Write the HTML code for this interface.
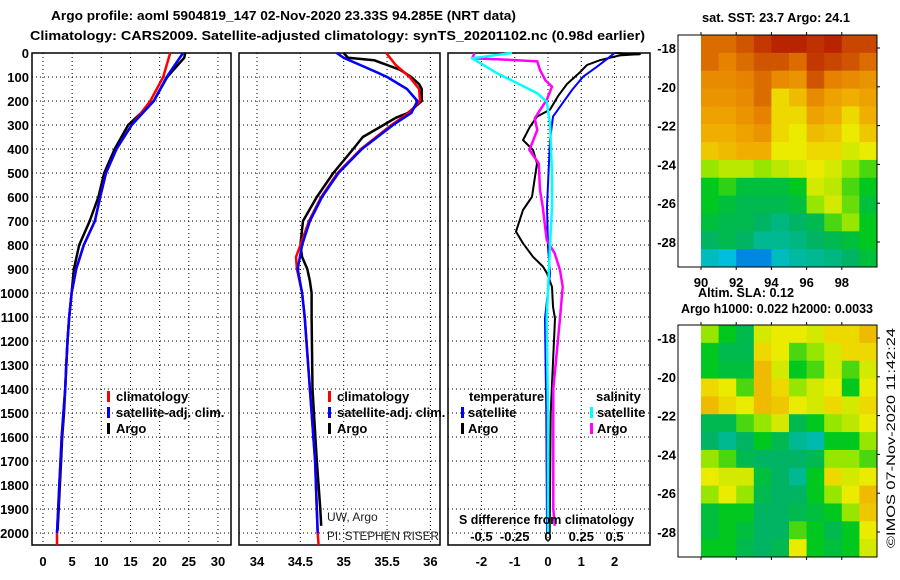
<!DOCTYPE html>
<html><head><meta charset="utf-8"><style>
html,body{margin:0;padding:0;background:#fff;}
svg{display:block;font-family:"Liberation Sans",sans-serif;}
.b{font-weight:bold;font-size:13px;fill:#000;}
</style></head><body>
<svg id="chart" width="900" height="580" viewBox="0 0 900 580" xmlns="http://www.w3.org/2000/svg">
<rect x="0" y="0" width="900" height="580" fill="#fff"/>
<text class="b" x="51" y="20" textLength="465" lengthAdjust="spacingAndGlyphs">Argo profile: aoml 5904819_147 02-Nov-2020 23.33S 94.285E (NRT data)</text>
<text class="b" x="30" y="40" textLength="615" lengthAdjust="spacingAndGlyphs">Climatology: CARS2009. Satellite-adjusted climatology: synTS_20201102.nc (0.98d earlier)</text>
<text class="b" x="702" y="22" textLength="148" lengthAdjust="spacingAndGlyphs">sat. SST: 23.7 Argo: 24.1</text>
<text class="b" x="698" y="297" textLength="96" lengthAdjust="spacingAndGlyphs">Altim. SLA: 0.12</text>
<text class="b" x="681" y="313" textLength="192" lengthAdjust="spacingAndGlyphs">Argo h1000: 0.022 h2000: 0.0033</text>
<text transform="translate(895,548) rotate(-90)" font-size="12" fill="#000" textLength="220" lengthAdjust="spacingAndGlyphs">©IMOS 07-Nov-2020 11:42:24</text>
<g id="plots"></g>
</svg>
<script>
// ---------- data: temperature panel ----------
const tClimDepth = [0,100,200,300,400,500,600,700,800,900,1000,1100,1200,1300,1400,1500,1600,1700,1800,1900,2000,2050];
const tClim      = [21.8,20.6,18.4,15.2,12.6,10.8,9.8,8.9,7.0,5.7,4.9,4.5,4.2,4.0,3.8,3.5,3.2,3.0,2.8,2.6,2.4,2.4];
const tSatDepth  = [0,100,200,300,400,500,600,700,800,900,1000,1100,1200,1300,1400,1500,1600,1700,1800,1900,2000];
const tSat       = [24.0,21.2,19.0,15.2,12.6,10.8,9.8,8.9,7.0,5.7,4.9,4.5,4.2,4.0,3.8,3.5,3.2,3.0,2.8,2.6,2.4];
const tArgoDepth = [0,20,100,200,300,400,500,600,700,800,900,1000,1100,1200,1300,1400,1500,1600,1700,1800,1900,1990];
const tArgo      = [24.4,24.2,21.3,19.0,14.6,12.3,10.5,9.5,8.0,6.2,5.3,4.9,4.5,4.2,4.0,3.8,3.6,3.3,3.1,2.9,2.7,2.5];
const tTicks = [0,5,10,15,20,25,30];
// ---------- data: salinity panel ----------
const sClimDepth = [0,50,100,150,200,250,300,400,500,600,700,800,850,900,1000,1100,1400,1700,1900,2000,2050];
const sClim      = [35.49,35.6,35.76,35.87,35.88,35.75,35.55,35.2,34.93,34.74,34.6,34.5,34.45,34.46,34.52,34.55,34.61,34.67,34.69,34.7,34.71];
const sSatDepth  = [0,20,50,80,100,150,200,250,300,400,500,600,700,800,900,1000,1100,1400,1700,1900,2000];
const sSat       = [34.92,35.0,35.19,35.38,35.5,35.73,35.85,35.78,35.57,35.21,34.94,34.75,34.61,34.52,34.47,34.52,34.55,34.61,34.67,34.69,34.7];
const sArgoDepth = [0,20,30,50,70,100,130,150,200,250,270,300,350,400,500,600,700,800,850,900,950,1000,1100,1400,1700,1900,1970];
const sArgo      = [35.0,35.05,35.35,35.5,35.65,35.78,35.87,35.9,35.9,35.74,35.6,35.46,35.22,35.11,34.88,34.69,34.53,34.5,34.52,34.58,34.61,34.63,34.63,34.64,34.69,34.73,34.74];
const sTicks = [34,34.5,35,35.5,36];
// ---------- data: difference panel ----------
const dTArgoDepth = [0,5,10,30,50,80,129,180,236,265,307,363,404,460,515,599,654,744,793,849,890,918,974,1057,1106,1500,2000];
const dTArgo      = [2.0,2.76,2.16,1.56,1.17,0.96,0.57,0.3,0.06,-0.33,-0.54,-0.75,-0.45,-0.33,-0.39,-0.48,-0.75,-0.96,-0.75,-0.45,-0.15,-0.03,0.12,0.15,0.21,0.08,0.05];
const dTSatDepth  = [0,22,57,99,154,236,265,363,640,807,918,1106,1500,2000];
const dTSat       = [2.0,1.8,1.47,1.05,0.72,0.3,0.15,0.06,-0.03,0.0,0.06,-0.09,-0.05,-0.03];
const dSSatDepth  = [0,22,35,85,126,168,203,293,500,640,807,988,1106,1500,2000];
const dSSat       = [-0.27,-0.57,-0.53,-0.38,-0.23,-0.08,-0.01,0.015,0.03,0.03,0.015,0.0,-0.01,0.0,0.0];
const dSArgoDepth = [0,22,28,35,71,113,140,196,238,273,321,404,460,571,640,779,835,904,974,1106,1400,1900,1970];
const dSArgo      = [-0.55,-0.57,-0.3,-0.08,-0.06,-0.02,0.03,-0.01,-0.06,-0.1,-0.08,-0.14,-0.07,-0.06,-0.04,-0.01,0.05,0.09,0.11,0.09,0.04,0.04,0.05];
const dTTicks = [-2,-1,0,1,2];
const dSTicks = [-0.5,-0.25,0,0.25,0.5];
const depthTicks = [0,100,200,300,400,500,600,700,800,900,1000,1100,1200,1300,1400,1500,1600,1700,1800,1900,2000];
// ---------- data: maps ----------
const sstGrid = [
[0.85,0.85,0.88,0.92,0.95,0.95,0.93,0.95,0.9,0.9],
[0.85,0.82,0.85,0.88,0.88,0.85,0.92,0.9,0.88,0.85],
[0.8,0.8,0.82,0.85,0.8,0.78,0.88,0.82,0.8,0.78],
[0.78,0.78,0.8,0.85,0.65,0.7,0.8,0.75,0.72,0.75],
[0.75,0.75,0.78,0.82,0.65,0.65,0.75,0.72,0.65,0.72],
[0.72,0.72,0.75,0.78,0.65,0.62,0.7,0.68,0.62,0.68],
[0.68,0.7,0.72,0.72,0.62,0.62,0.65,0.65,0.6,0.62],
[0.55,0.58,0.58,0.55,0.58,0.6,0.62,0.6,0.55,0.5],
[0.45,0.48,0.42,0.42,0.42,0.45,0.6,0.58,0.5,0.45],
[0.45,0.42,0.4,0.4,0.4,0.42,0.55,0.6,0.52,0.42],
[0.42,0.4,0.4,0.38,0.36,0.38,0.4,0.5,0.55,0.45],
[0.38,0.4,0.38,0.35,0.35,0.36,0.38,0.4,0.42,0.45],
[0.32,0.3,0.25,0.25,0.32,0.34,0.35,0.36,0.38,0.42]];
const slaGrid = [
[0.55,0.45,0.4,0.6,0.62,0.62,0.6,0.65,0.65,0.7],
[0.45,0.4,0.4,0.65,0.62,0.5,0.55,0.6,0.65,0.65],
[0.45,0.42,0.42,0.7,0.6,0.45,0.5,0.6,0.5,0.6],
[0.65,0.62,0.5,0.7,0.65,0.55,0.6,0.62,0.45,0.62],
[0.7,0.65,0.62,0.7,0.68,0.62,0.6,0.65,0.6,0.65],
[0.4,0.4,0.5,0.55,0.6,0.4,0.45,0.55,0.58,0.62],
[0.38,0.35,0.38,0.45,0.4,0.35,0.33,0.45,0.45,0.55],
[0.55,0.5,0.4,0.38,0.38,0.38,0.4,0.55,0.55,0.5],
[0.62,0.6,0.6,0.42,0.38,0.35,0.45,0.65,0.6,0.62],
[0.55,0.62,0.55,0.4,0.38,0.38,0.45,0.55,0.62,0.7],
[0.42,0.45,0.45,0.38,0.38,0.4,0.42,0.45,0.55,0.68],
[0.42,0.45,0.42,0.38,0.38,0.5,0.45,0.4,0.45,0.62],
[0.45,0.45,0.4,0.38,0.4,0.62,0.45,0.42,0.45,0.6]];
const lonTicks = [90,92,94,96,98];
const latTicks = [-18,-20,-22,-24,-26,-28];

const NS = "http://www.w3.org/2000/svg";
const G = document.getElementById('plots');
function mk(tag, attrs, parent){ const e=document.createElementNS(NS,tag); for(const k in attrs) e.setAttribute(k,attrs[k]); (parent||G).appendChild(e); return e; }
const yD = d => 53 + 0.24*d;
const TOP=53, BOT=545;
const panels = [
 {name:'temperature', x0:32, x1:231, fx:v=>43+5.833*v, ticks:tTicks},
 {name:'salinity', x0:239, x1:440, fx:v=>257+86.7*(v-34), ticks:sTicks},
 {name:'difference', x0:448, x1:650, fx:v=>548+33.3*v, ticks:dTTicks}
];
const fxS = v => 548+133.2*v;

panels.forEach(p=>{
  const g = mk('g',{});
  
  
  depthTicks.forEach(d=>{
    const l = mk('line',{x1:p.x0,x2:p.x1,y1:yD(d),y2:yD(d),stroke:'#000','stroke-width':1,'stroke-dasharray':'1,3'},g);
    
    
  });
  p.ticks.forEach(t=>{
    const x=p.fx(t);
    const l = mk('line',{x1:x,x2:x,y1:TOP,y2:BOT,stroke:'#000','stroke-width':1,'stroke-dasharray':'1,3'},g);
    
    
    const tx = mk('text',{x:x,y:566,'text-anchor':'middle',class:'b'},g);
    tx.textContent = String(t);
    
    
  });
  const fr = mk('rect',{x:p.x0,y:TOP,width:p.x1-p.x0,height:BOT-TOP,fill:'none',stroke:'#000','stroke-width':1.5},g);
  
  
});
depthTicks.forEach(d=>{
  const tx = mk('text',{x:29,y:yD(d)+5,'text-anchor':'end',class:'b'});
  tx.textContent = String(d);
  
  
});

function line(vals, depths, fx, color, w, name){
  const pts = vals.map((v,i)=>fx(v).toFixed(1)+','+yD(depths[i]).toFixed(1)).join(' ');
  const pl = mk('polyline',{points:pts,fill:'none',stroke:color,'stroke-width':w,'stroke-linejoin':'round'});
  
  
}
const f1=panels[0].fx, f2=panels[1].fx, f3=panels[2].fx;
line(tArgo,tArgoDepth,f1,'#000',2.5,'temperature-argo-line');
line(tClim,tClimDepth,f1,'#f00',2.5,'temperature-climatology-line');
line(tSat,tSatDepth,f1,'#00f',2.5,'temperature-satellite-line');
line(sArgo,sArgoDepth,f2,'#000',2.5,'salinity-argo-line');
line(sClim,sClimDepth,f2,'#f00',2.5,'salinity-climatology-line');
line(sSat,sSatDepth,f2,'#00f',2.5,'salinity-satellite-line');
line(dTArgo,dTArgoDepth,f3,'#000',2,'temp-diff-argo-line');
line(dTSat,dTSatDepth,f3,'#00f',2,'temp-diff-satellite-line');
line(dSArgo,dSArgoDepth,fxS,'#f0f',2.5,'sal-diff-argo-line');
line(dSSat,dSSatDepth,fxS,'#0ff',2.5,'sal-diff-satellite-line');

function label(txt,x,y,name,extra){
  const t = mk('text',Object.assign({x:x,y:y,class:'b'},extra||{}));
  t.textContent = txt;
  
  
  return t;
}
function swatch(x,y,color,name){
  const r = mk('rect',{x:x,y:y,width:3,height:11,fill:color});
  
  
}
[[107,116],[328,337]].forEach((pos,k)=>{
  swatch(pos[0],391,'#f00','legend-climatology-swatch');
  label('climatology',pos[1],401,'legend-climatology');
  swatch(pos[0],407,'#00f','legend-satellite-swatch');
  label('satellite-adj. clim.',pos[1],417,'legend-satellite-adj');
  swatch(pos[0],423,'#000','legend-argo-swatch');
  label('Argo',pos[1],433,'legend-argo');
});
label('temperature',469,401,'legend-temperature-heading');
swatch(461,407,'#00f','legend-temp-satellite-swatch');
label('satellite',468,417,'legend-temp-satellite');
swatch(461,423,'#000','legend-temp-argo-swatch');
label('Argo',468,433,'legend-temp-argo');
label('salinity',596,401,'legend-salinity-heading');
swatch(590,407,'#0ff','legend-sal-satellite-swatch');
label('satellite',597,417,'legend-sal-satellite');
swatch(590,423,'#f0f','legend-sal-argo-swatch');
label('Argo',597,433,'legend-sal-argo');
label('S difference from climatology',459,524,'salinity-axis-title',{textLength:175,lengthAdjust:'spacingAndGlyphs'});
dSTicks.forEach(t=>{
  const tx = label(String(t),fxS(t),541,'salinity-tick-label',{'text-anchor':'middle'});
});
const u1 = label('UW, Argo',327,521,'institution-label'); u1.setAttribute('class',''); u1.setAttribute('font-size','12'); u1.setAttribute('fill','#222');
const u2 = label('PI: STEPHEN RISER',327,540,'pi-label'); u2.setAttribute('class',''); u2.setAttribute('font-size','12'); u2.setAttribute('fill','#222'); u2.setAttribute('textLength','112'); u2.setAttribute('lengthAdjust','spacingAndGlyphs');

// colormap
const cmS=[0.2,0.3,0.38,0.45,0.55,0.62,0.72,0.82,0.9,1.0];
const cmC=[[0,80,230],[0,190,220],[0,180,100],[0,200,30],[150,230,0],[235,235,0],[240,175,0],[230,130,0],[200,70,0],[170,0,0]];
function cmap(v){
  if(v<=cmS[0]) return 'rgb('+cmC[0]+')';
  for(let i=1;i<cmS.length;i++){ if(v<=cmS[i]){ const f=(v-cmS[i-1])/(cmS[i]-cmS[i-1]); const c=cmC[i-1].map((a,j)=>Math.round(a+(cmC[i][j]-a)*f)); return 'rgb('+c+')'; } }
  return 'rgb('+cmC[cmC.length-1]+')';
}
function drawMap(grid, top, name){
  const ix0=701, ix1=877, bx0=678, h=232;
  const g = mk('g',{});
  
  
  const rows=grid.length, cols=grid[0].length;
  const cw=(ix1-ix0)/cols, ch=h/rows;
  grid.forEach((row,r)=>row.forEach((v,c)=>{
    const cell = mk('rect',{x:(ix0+c*cw).toFixed(2),y:(top+r*ch).toFixed(2),width:(cw+0.5).toFixed(2),height:(ch+0.5).toFixed(2),fill:cmap(v)},g);
    
    
  }));
  const fr = mk('rect',{x:bx0,y:top,width:ix1-bx0,height:h,fill:'none',stroke:'#000','stroke-width':1},g);
  
  
  const lx = lon => ix0 + (lon-90)*17.6;
  const ly = lat => top + 13 + (-18-lat)*19.4;
  lonTicks.forEach(lon=>{
    mk('line',{x1:lx(lon),x2:lx(lon),y1:top-3,y2:top,stroke:'#000'},g);
    mk('line',{x1:lx(lon),x2:lx(lon),y1:top+h,y2:top+h+3,stroke:'#000'},g);
  });
  latTicks.forEach(lat=>{
    mk('line',{x1:ix1,x2:ix1+3,y1:ly(lat),y2:ly(lat),stroke:'#000'},g);
    const t = mk('text',{x:676,y:ly(lat)+5,'text-anchor':'end',class:'b'},g);
    t.textContent=String(lat);
    
    
  });
  return lx;
}
const lx = drawMap(sstGrid,35,'sst-map');
drawMap(slaGrid,325,'sla-map');
lonTicks.forEach(lon=>{
  const t = label(String(lon),lx(lon),287,'longitude-tick-label',{'text-anchor':'middle'});
});
</script>
</body></html>
